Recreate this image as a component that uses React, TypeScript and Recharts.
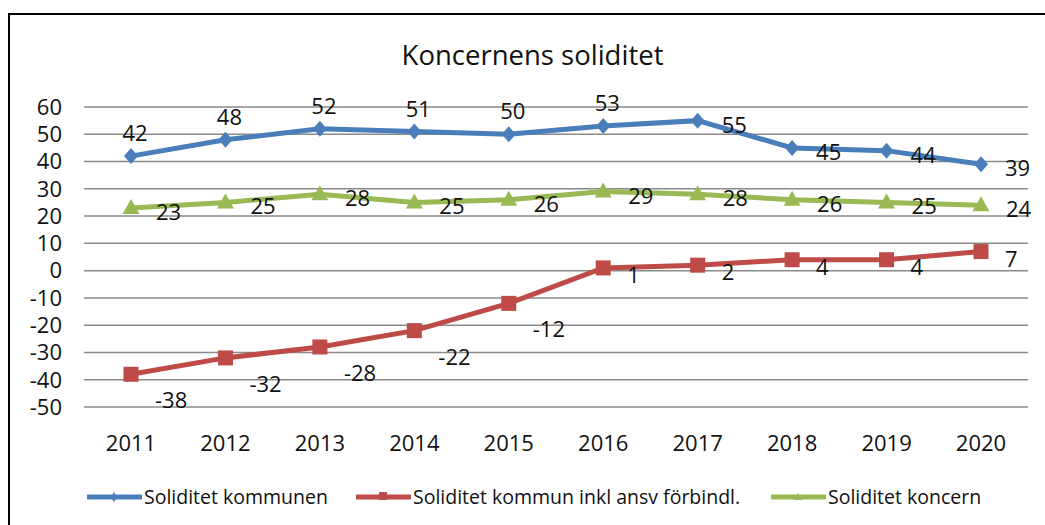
import React from 'react'
import { LineChart, Line, XAxis, YAxis, CartesianGrid } from 'recharts'

const years = ['2011', '2012', '2013', '2014', '2015', '2016', '2017', '2018', '2019', '2020']
const kommunen = [42, 48, 52, 51, 50, 53, 55, 45, 44, 39]
const kommunInklAnsv = [-38, -32, -28, -22, -12, 1, 2, 4, 4, 7]
const koncern = [23, 25, 28, 25, 26, 29, 28, 26, 25, 24]
const yTicks = [-50, -40, -30, -20, -10, 0, 10, 20, 30, 40, 50, 60]

const seriesNames = ['Soliditet kommunen', 'Soliditet kommun inkl ansv förbindl.', 'Soliditet koncern']

const BLUE = '#4A7EBB'
const RED = '#BE4B48'
const GREEN = '#98B954'
const FONT = '"Open Sans", sans-serif'

const data = years.map((year, i) => ({
  year,
  kommunen: kommunen[i],
  inkl: kommunInklAnsv[i],
  koncern: koncern[i],
}))

const Diamond = ({ cx, cy }: any) => (
  <polygon points={`${cx},${cy - 8} ${cx + 7},${cy} ${cx},${cy + 8} ${cx - 7},${cy}`} fill={BLUE} />
)
const Square = ({ cx, cy }: any) => <rect x={cx - 7.5} y={cy - 7.5} width={15} height={15} fill={RED} />
const Triangle = ({ cx, cy }: any) => (
  <polygon points={`${cx},${cy - 9} ${cx + 8.5},${cy + 6} ${cx - 8.5},${cy + 6}`} fill={GREEN} />
)

const labelText = (x: number, y: number, value: any, anchor: 'start' | 'middle', key: any) => (
  <text
    key={key}
    x={x}
    y={y}
    textAnchor={anchor}
    dominantBaseline="central"
    fontFamily={FONT}
    fontSize={22}
    fill="#111"
  >
    {value}
  </text>
)

// blue labels sit above the first six points, to the right after that
const BlueLabel = ({ x, y, value, index }: any) =>
  index < 6 ? labelText(x + 4, y - 24, value, 'middle', index) : labelText(x + 24, y + 3, value, 'start', index)

const RedLabel = ({ x, y, value, index }: any) =>
  labelText(x + 24, y + (value < 0 ? 25 : 6), value, 'start', index)

const GreenLabel = ({ x, y, value, index }: any) => labelText(x + 25, y + 3, value, 'start', index)

const LegendIcon = ({ color, shape }: { color: string; shape: string }) => (
  <svg width={55} height={14} style={{ display: 'block' }}>
    <line x1={1} y1={7} x2={54} y2={7} stroke={color} strokeWidth={5} strokeLinecap="round" />
    {shape === 'diamond' && <polygon points="27,2 30,7 27,12 24,7" fill={color} />}
    {shape === 'square' && <rect x={23} y={2} width={8} height={8} fill={color} />}
    {shape === 'triangle' && <polygon points="27,3 31,10 23,10" fill={color} />}
  </svg>
)

export default function App() {
  const legendItems = [
    { name: seriesNames[0], color: BLUE, shape: 'diamond', left: 87 },
    { name: seriesNames[1], color: RED, shape: 'square', left: 356 },
    { name: seriesNames[2], color: GREEN, shape: 'triangle', left: 771 },
  ]

  return (
    <div style={{ position: 'absolute', left: 0, top: 0, width: 1045, height: 525, background: '#fff', overflow: 'hidden' }}>
      <div
        style={{
          position: 'absolute',
          left: 8,
          top: 13,
          width: 1100,
          height: 600,
          borderTop: '2px solid #000',
          borderLeft: '2px solid #000',
        }}
      />
      <div
        style={{
          position: 'absolute',
          left: 0,
          width: 1065,
          top: 36,
          textAlign: 'center',
          fontFamily: FONT,
          fontSize: 27.5,
          color: '#111',
          lineHeight: '38px',
        }}
      >
        Koncernens soliditet
      </div>
      <div style={{ position: 'absolute', left: 0, top: 0 }}>
        <LineChart width={1045} height={525} data={data} margin={{ top: 107, right: 17, bottom: 68, left: 0 }}>
          <CartesianGrid vertical={false} stroke="#8a8a8a" strokeWidth={1.5} />
          <XAxis
            dataKey="year"
            axisLine={false}
            tickLine={false}
            tickSize={0}
            tickMargin={28}
            height={50}
            interval={0}
            padding={{ left: 47, right: 47 }}
            tick={{ fontFamily: FONT, fontSize: 22, fill: '#111' }}
          />
          <YAxis
            domain={[-50, 60]}
            ticks={yTicks}
            axisLine={false}
            tickLine={false}
            tickSize={0}
            tickMargin={22}
            width={84}
            interval={0}
            tick={{ fontFamily: FONT, fontSize: 22, fill: '#111' }}
          />
          <Line
            dataKey="kommunen"
            name={seriesNames[0]}
            stroke={BLUE}
            strokeWidth={5}
            isAnimationActive={false}
            dot={(p: any) => <Diamond key={p.index} {...p} />}
            label={<BlueLabel />}
          />
          <Line
            dataKey="inkl"
            name={seriesNames[1]}
            stroke={RED}
            strokeWidth={5}
            isAnimationActive={false}
            dot={(p: any) => <Square key={p.index} {...p} />}
            label={<RedLabel />}
          />
          <Line
            dataKey="koncern"
            name={seriesNames[2]}
            stroke={GREEN}
            strokeWidth={5}
            isAnimationActive={false}
            dot={(p: any) => <Triangle key={p.index} {...p} />}
            label={<GreenLabel />}
          />
        </LineChart>
      </div>
      {legendItems.map((item) => (
        <div
          key={item.name}
          style={{
            position: 'absolute',
            left: item.left,
            top: 484,
            display: 'flex',
            alignItems: 'center',
            gap: 2,
            fontFamily: FONT,
            fontSize: 19.5,
            color: '#111',
          }}
        >
          <LegendIcon color={item.color} shape={item.shape} />
          <span style={{ lineHeight: '26px', whiteSpace: 'nowrap' }}>{item.name}</span>
        </div>
      ))}
    </div>
  )
}
